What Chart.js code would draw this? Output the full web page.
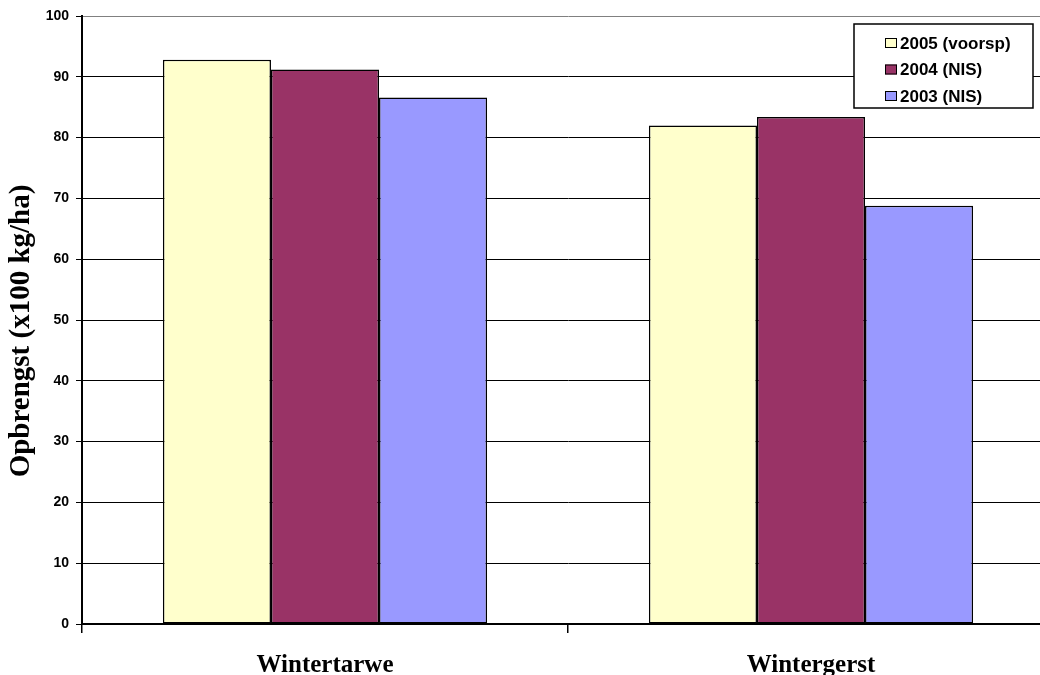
<!DOCTYPE html>
<html>
<head>
<meta charset="utf-8">
<script src="https://cdn.jsdelivr.net/npm/chart.js@4.4.1/dist/chart.umd.min.js"></script>
<style>
  html, body { margin: 0; padding: 0; background: #fff; overflow: hidden; }
  #wrap { position: relative; width: 1060px; height: 675px; }
</style>
</head>
<body>
<div id="wrap"><canvas id="c" width="1060" height="675"></canvas></div>
<script>
// Crop categories and yield per season (x100 kg/ha)
const categories = ['Wintertarwe', 'Wintergerst'];
const seriesNames = ['2005 (voorsp)', '2004 (NIS)', '2003 (NIS)'];
const yield2005 = [92.8, 82.0];
const yield2004 = [91.2, 83.4];
const yield2003 = [86.6, 68.8];
const yTicks = [0, 10, 20, 30, 40, 50, 60, 70, 80, 90, 100];
const yTitle = 'Opbrengst (x100 kg/ha)';
const seriesColors = ['#FFFFCC', '#993366', '#9999FF'];

const SERIF = '"Liberation Serif", "Times New Roman", serif';
const SANS = '"Liberation Sans", Arial, sans-serif';

const ds = [yield2005, yield2004, yield2003].map((vals, i) => ({
  label: seriesNames[i],
  data: vals,
  backgroundColor: seriesColors[i],
  borderColor: '#000',
  borderWidth: 1.5,
  borderSkipped: false,
  categoryPercentage: 0.667,
  barPercentage: 1.0
}));

// Large serif captions: category names under the axis and the rotated value-axis title
const serifCaptions = {
  id: 'serifCaptions',
  afterDraw(chart) {
    const ctx = chart.ctx;
    const xs = chart.scales.x;
    ctx.save();
    ctx.fillStyle = '#000';
    ctx.textAlign = 'center';
    ctx.textBaseline = 'alphabetic';
    ctx.font = 'bold 25px ' + SERIF;
    chart.data.labels.forEach((lab, i) => {
      ctx.fillText(lab, xs.getPixelForValue(i), 672);
    });
    ctx.save();
    ctx.translate(22, 331);
    ctx.rotate(-Math.PI / 2);
    ctx.font = 'bold 29px ' + SERIF;
    ctx.textBaseline = 'middle';
    ctx.fillText(yTitle, 0, 0);
    ctx.restore();
    ctx.restore();
  }
};

// Boxed legend in the upper-right corner of the plot
const boxLegend = {
  id: 'boxLegend',
  afterDraw(chart) {
    const ctx = chart.ctx;
    const x = 854, y = 24, w = 179, h = 84;
    ctx.save();
    ctx.fillStyle = '#fff';
    ctx.fillRect(x, y, w, h);
    ctx.strokeStyle = '#000';
    ctx.lineWidth = 1.5;
    ctx.strokeRect(x, y, w, h);
    ctx.font = 'bold 17px ' + SANS;
    ctx.textBaseline = 'middle';
    chart.data.datasets.forEach((d, i) => {
      const cy = y + 19 + i * 26.5;
      ctx.fillStyle = d.backgroundColor;
      ctx.fillRect(x + 31, cy - 5, 12, 10);
      ctx.strokeStyle = '#000';
      ctx.lineWidth = 1;
      ctx.strokeRect(x + 31.5, cy - 4.5, 11, 9);
      ctx.fillStyle = '#000';
      ctx.fillText(d.label, x + 46, cy + 1);
    });
    ctx.restore();
  }
};

new Chart(document.getElementById('c'), {
  type: 'bar',
  data: { labels: categories, datasets: ds },
  plugins: [boxLegend, serifCaptions],
  options: {
    responsive: false,
    animation: false,
    layout: { padding: { top: 16, right: 6, left: 0, bottom: 0 } },
    plugins: { legend: { display: false }, tooltip: { enabled: false } },
    scales: {
      x: {
        offset: true,
        grid: {
          offset: true,
          drawOnChartArea: false,
          color: '#000',
          tickColor: '#000',
          tickLength: 9,
          lineWidth: 1.5
        },
        border: { color: '#000', width: 2 },
        ticks: { display: false },
        afterFit(scale) { scale.height = 51; }
      },
      y: {
        min: 0,
        max: 100,
        afterBuildTicks(scale) { scale.ticks = yTicks.map(v => ({ value: v })); },
        grid: {
          color: (c) => (c.tick && c.tick.value === 100) ? '#808080' : '#000',
          tickColor: '#000',
          lineWidth: 1,
          tickLength: 6
        },
        border: { color: '#000', width: 2 },
        ticks: {
          color: '#000',
          padding: 7,
          font: { family: SANS, size: 14, weight: 'bold' }
        },
        afterFit(scale) { scale.width = 82; }
      }
    }
  }
});
</script>
</body>
</html>
